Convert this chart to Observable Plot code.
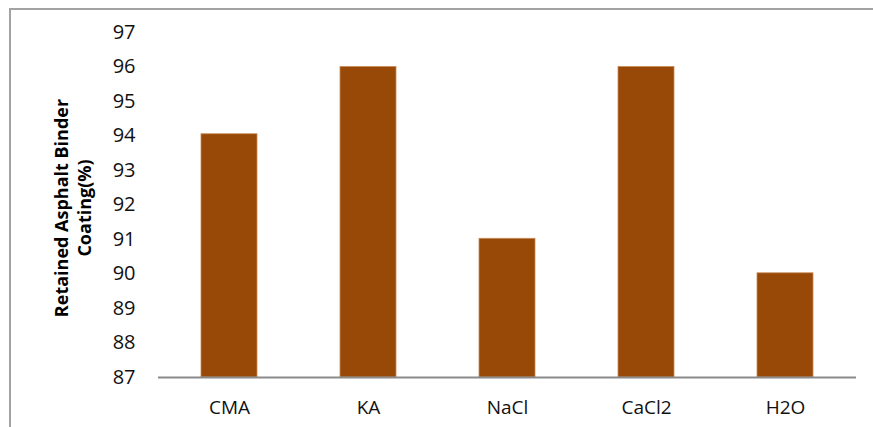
<!DOCTYPE html>
<html>
<head>
<meta charset="utf-8">
<script src="https://cdn.jsdelivr.net/npm/d3@7"></script>
<script src="https://cdn.jsdelivr.net/npm/@observablehq/plot@0.6"></script>
<style>
  html, body { margin: 0; padding: 0; background: #fff; }
  #chart svg { display: block; }
</style>
</head>
<body>
<div id="chart"></div>
<script>
const categories = ["CMA", "KA", "NaCl", "CaCl2", "H2O"];
const values = [94.05, 96, 91.02, 96, 90.02];
const yTicks = [87, 88, 89, 90, 91, 92, 93, 94, 95, 96, 97];
const yLabelLines = ["Retained Asphalt Binder", "Coating(%)"];

const data = categories.map((c, i) => ({cat: c, value: values[i]}));

const W = 873, H = 427;
const mL = 158, mR = 17, mT = 32, mB = 50;

const plot = Plot.plot({
  width: W,
  height: H,
  marginLeft: mL,
  marginRight: mR,
  marginTop: mT,
  marginBottom: mB,
  style: {fontFamily: "'Open Sans', sans-serif", fontSize: "20px", color: "#111", background: "#fff"},
  x: {domain: categories, paddingInner: 0.6, paddingOuter: 0.3, label: null},
  y: {domain: [87, 97], label: null},
  marks: [
    Plot.barY(data, {x: "cat", y1: 87, y2: "value", fill: "#984807", stroke: "#c58a55", strokeWidth: 0.8}),
    Plot.axisY({ticks: yTicks, tickSize: 0, tickPadding: 23, tickFormat: d => String(d), fontSize: 20}),
    Plot.axisX({tickSize: 0, tickPadding: 23, fontSize: 19, style: {letterSpacing: "1px"}}),
    Plot.ruleX([0], {x: () => null, frameAnchor: "left", stroke: "#8a8a8a", strokeWidth: 2}),
    Plot.ruleY([87], {stroke: "#8a8a8a", strokeWidth: 2})
  ]
});

const svg = d3.select(plot);
// outer chart border (partly cut off on right and bottom)
svg.insert("rect", ":first-child")
  .attr("x", 10).attr("y", 9)
  .attr("width", W + 20).attr("height", H + 20)
  .attr("fill", "none").attr("stroke", "#a3a3a3").attr("stroke-width", 2);

// y axis title (two lines, rotated)
const t = svg.append("text")
  .attr("transform", "translate(73,208) rotate(-90)")
  .attr("text-anchor", "middle")
  .attr("font-family", "'Open Sans', sans-serif")
  .attr("font-weight", "bold")
  .attr("font-size", 18)
  .attr("fill", "#000");
yLabelLines.forEach((line, i) => {
  t.append("tspan").attr("x", 0).attr("y", (i - 0.5) * 23).attr("dy", "0.35em").text(line);
});

document.getElementById("chart").appendChild(plot);
</script>
</body>
</html>
